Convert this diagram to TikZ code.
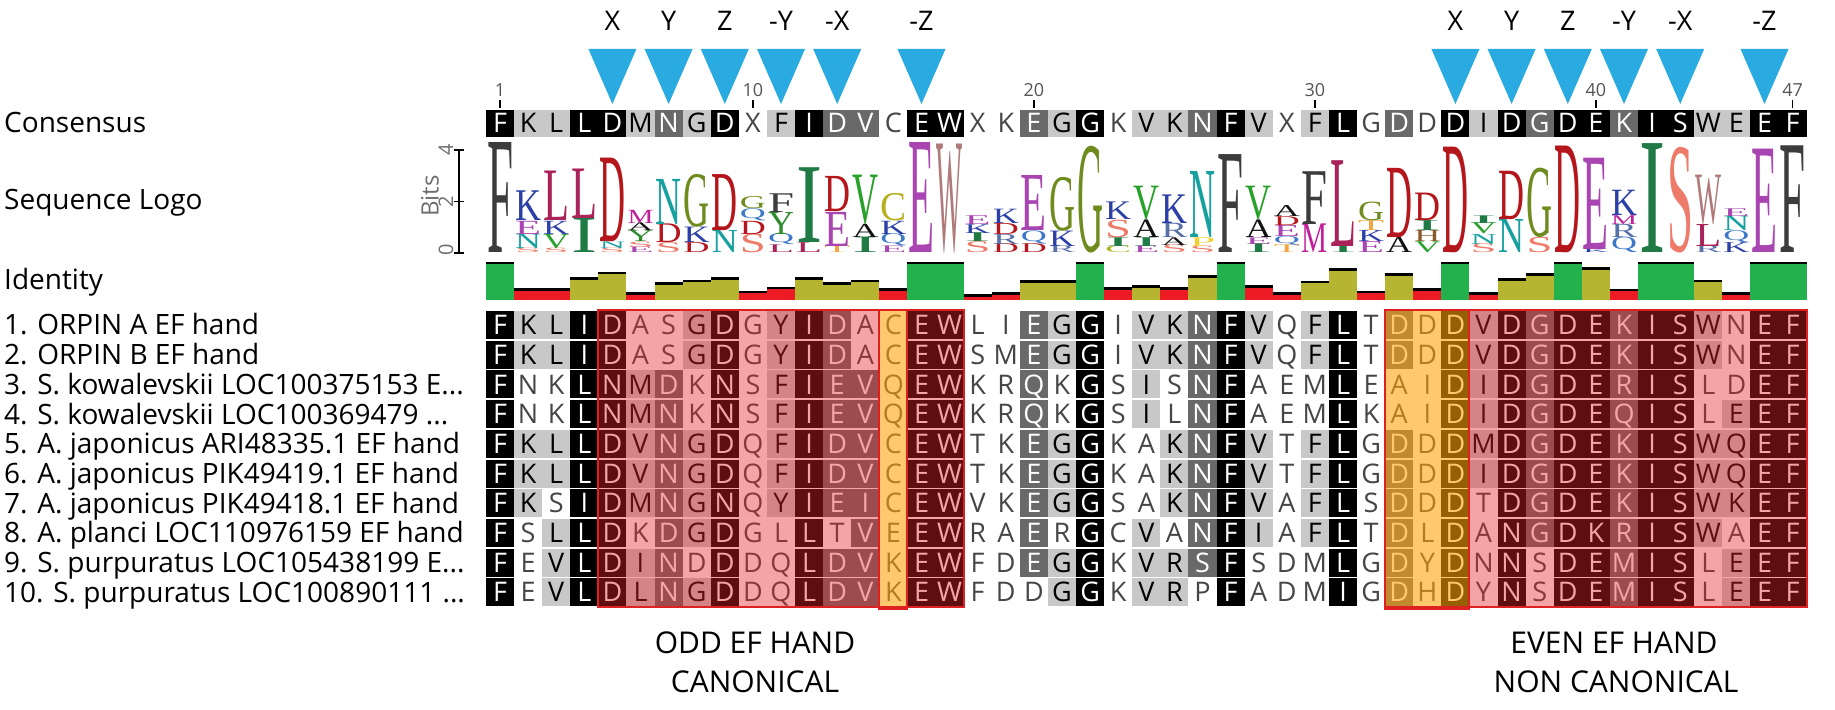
\documentclass[tikz,border=0pt]{standalone}
\usepackage{fontspec}
\usepackage{graphicx}
\setmainfont{Open Sans}
\newfontfamily\logofont{Liberation Serif}
\definecolor{f3}{RGB}{0,0,0}
\definecolor{t3}{RGB}{255,255,255}
\definecolor{f2}{RGB}{105,105,105}
\definecolor{t2}{RGB}{255,255,255}
\definecolor{f1}{RGB}{200,200,200}
\definecolor{t1}{RGB}{0,0,0}
\definecolor{f0}{RGB}{255,255,255}
\definecolor{t0}{RGB}{70,70,70}
\definecolor{triblue}{RGB}{41,171,226}
\definecolor{idg}{RGB}{34,177,76}
\definecolor{ido}{RGB}{181,181,50}
\definecolor{idr}{RGB}{237,28,36}
\definecolor{ovred}{RGB}{230,36,36}
\definecolor{ovorange}{RGB}{255,162,10}
\definecolor{boxred}{RGB}{222,32,32}
\definecolor{lgF}{RGB}{60,60,60}
\definecolor{lgK}{RGB}{43,63,168}
\definecolor{lgL}{RGB}{170,34,90}
\definecolor{lgD}{RGB}{180,22,27}
\definecolor{lgM}{RGB}{192,32,154}
\definecolor{lgN}{RGB}{22,160,160}
\definecolor{lgG}{RGB}{110,139,30}
\definecolor{lgI}{RGB}{31,122,69}
\definecolor{lgV}{RGB}{39,161,42}
\definecolor{lgC}{RGB}{181,176,31}
\definecolor{lgE}{RGB}{169,69,176}
\definecolor{lgW}{RGB}{176,122,122}
\definecolor{lgQ}{RGB}{61,120,200}
\definecolor{lgY}{RGB}{46,139,46}
\definecolor{lgS}{RGB}{238,122,106}
\definecolor{lgA}{RGB}{17,17,17}
\definecolor{lgR}{RGB}{88,112,168}
\definecolor{lgT}{RGB}{242,165,65}
\definecolor{lgP}{RGB}{242,208,53}
\definecolor{lgH}{RGB}{139,90,43}

\begin{document}
\begin{tikzpicture}[x=1pt, y=-1pt]
            \tikzstyle{cell} = [inner sep=0pt, minimum width=28.1pt, minimum height=28pt, text height=19.3pt, text depth=0pt, font=\fontsize{27}{27}\selectfont]
            \tikzstyle{lab} = [anchor=base west, inner sep=0pt, font=\fontsize{28}{28}\selectfont]
            \tikzstyle{num} = [anchor=south, inner sep=0pt, text={rgb,255:red,85;green,85;blue,85}, font=\fontsize{18}{18}\selectfont]
            \tikzstyle{toplab} = [anchor=base, inner sep=0pt, font=\fontsize{27}{27}\selectfont]
            \tikzstyle{bot} = [anchor=base, inner sep=0pt, font=\fontsize{30}{30}\selectfont]
            \tikzstyle{ticklab} = [inner sep=0pt, rotate=90, text={rgb,255:red,110;green,110;blue,110}, font=\fontsize{20}{20}\selectfont]
            \tikzstyle{tri} = [fill=triblue]
            \tikzstyle{ovr} = [fill=ovred, fill opacity=0.41]
            \tikzstyle{ovo} = [fill=ovorange, fill opacity=0.59]
            \tikzstyle{frame} = [draw=boxred, line width=2pt]
            \useasboundingbox (0,0) rectangle (1835,709);
            \node[lab] (lcons) at (4,132.6) {Consensus};
            \node[lab] (llogo) at (4,209.6) {Sequence Logo};
            \node[lab] (lid) at (4,289) {Identity};
            \foreach \t [count=\r] in {1. ORPIN A EF hand, 2. ORPIN B EF hand, 3. S. kowalevskii LOC100375153 E.\kern0pt.\kern0pt., 4. S. kowalevskii LOC100369479 .\kern0pt.\kern0pt., 5. A. japonicus ARI48335.1 EF hand, 6. A. japonicus PIK49419.1 EF hand, 7. A. japonicus PIK49418.1 EF hand, 8. A. planci LOC110976159 EF hand, 9. S. purpuratus LOC105438199 E.\kern0pt.\kern0pt., 10. S. purpuratus LOC100890111 .\kern0pt.\kern0pt.}
                \node[lab] (l\r) at (4,{334.9+(\r-1)*29.7}) {\t};
            \foreach \c/\t in {5/X,7/Y,9/Z,11/-Y,13/-X,16/-Z,35/X,37/Y,39/Z,41/-Y,43/-X,46/-Z} {
                \pgfmathsetmacro\x{500+(\c-1)*28.1}
                \fill[tri] ({\x-24},49) -- ({\x+24},49) -- (\x,104) -- cycle;
                \node[toplab] (t\c) at (\x,30.6) {\t};
            }
            \foreach \c in {1,10,20,30,40,47} {
                \node[num] (n\c) at ({500+(\c-1)*28.1},97) {\c};
                \draw[line width=1.6pt] ({500+(\c-1)*28.1},100) -- ({500+(\c-1)*28.1},108);
            }
            \foreach \a/\s [count=\c] in {F/3,K/1,L/1,L/3,D/3,M/1,N/2,G/1,D/3,X/0,F/1,I/3,D/2,V/2,C/0,E/3,W/3,X/0,K/0,E/2,G/1,G/3,K/0,V/1,K/1,N/2,F/3,V/1,X/0,F/1,L/3,G/0,D/2,D/0,D/3,I/1,D/3,G/2,D/3,E/3,K/2,I/3,S/3,W/1,E/1,E/3,F/3}
                \node[cell, minimum height=27pt, fill=f\s, text=t\s] (cs\c) at ({500+(\c-1)*28.1},123) {\a};
            \foreach \stack [count=\c] in {{F/1},{S/0.04,N/0.13,E/0.12,K/0.27},{S/0.04,V/0.13,K/0.12,L/0.45},{I/0.31,L/0.45},{S/0.04,N/0.06,D/0.76},{E/0.05,S/0.05,Y/0.1,A/0.07,M/0.12},{S/0.09,D/0.17,N/0.41},{D/0.09,K/0.14,G/0.48},{N/0.2,D/0.51},{S/0.17,D/0.12,Q/0.11,G/0.11},{L/0.07,Q/0.1,Y/0.2,F/0.17},{L/0.09,I/0.68},{T/0.06,E/0.31,D/0.32},{I/0.14,A/0.12,V/0.45},{E/0.06,Q/0.11,K/0.12,C/0.25},{E/1},{W/0.99},{S/0.1,I/0.08,K/0.08,E/0.08},{D/0.08,R/0.09,D/0.1,K/0.13},{D/0.08,Q/0.12,E/0.5},{R/0.06,K/0.14,G/0.49},{G/0.97},{C/0.06,I/0.08,S/0.16,K/0.16},{E/0.06,I/0.08,A/0.16,V/0.31},{S/0.07,A/0.07,R/0.13,K/0.26},{S/0.06,P/0.08,N/0.6},{F/0.89},{I/0.08,E/0.06,A/0.16,V/0.31},{T/0.07,Q/0.08,E/0.1,D/0.08,A/0.1},{M/0.26,F/0.48},{I/0.06,L/0.78},{E/0.1,K/0.1,T/0.09,G/0.17},{A/0.14,D/0.63},{V/0.1,H/0.1,I/0.09,D/0.25},{D/0.96},{S/0.08,N/0.09,V/0.1,I/0.07},{N/0.3,D/0.44},{S/0.14,G/0.63},{D/0.97},{K/0.03,E/0.83},{Q/0.14,R/0.12,M/0.08,K/0.23},{I/0.99},{S/0.96},{R/0.06,L/0.2,W/0.45},{K/0.09,Q/0.11,N/0.13,E/0.07},{E/0.94},{F/0.97}} {
                \foreach \L/\h [count=\k, remember=\t as \b (initially 0), evaluate=\h as \t using \b+\h, evaluate=\h as \hh using \h*110] in \stack
                    \node[inner sep=0pt, anchor=south] (g\c-\k) at ({500+(\c-1)*28.1},{253-\b*110}) {\resizebox*{26pt}{\hh pt}{\color{lg\L}\logofont \L}};
            }
            \draw[line width=2pt] (459,150) -- (459,253);
            \foreach \y in {150,201.5,253}
                \draw[line width=1.5pt] (454,\y) -- (464,\y);
            \node[ticklab] (b4) at (446,150) {4};
            \node[ticklab] (b2) at (446,201.5) {2};
            \node[ticklab] (b0) at (446,250) {0};
            \node[ticklab, font=\fontsize{24}{24}\selectfont] (bits) at (430,196) {Bits};
            \foreach \v/\k [count=\c] in {1/g,0.29/r,0.29/r,0.58/o,0.73/o,0.17/r,0.44/o,0.51/o,0.58/o,0.22/r,0.32/r,0.58/o,0.44/o,0.51/o,0.29/r,1/g,1/g,0.12/r,0.17/r,0.5/o,0.5/o,1/g,0.31/r,0.36/o,0.31/r,0.63/o,1/g,0.36/r,0.17/r,0.49/o,0.82/o,0.22/r,0.69/o,0.29/r,1/g,0.17/r,0.56/o,0.69/o,1/g,0.85/o,0.27/r,1/g,1/g,0.51/o,0.17/r,1/g,1/g} {
                \fill[fill=id\k] ({485.95+(\c-1)*28.1},{300-\v*37}) rectangle ({514.05+(\c-1)*28.1},300);
                \draw[line width=2.5pt] ({485.95+(\c-1)*28.1},{300-\v*37}) -- ({514.05+(\c-1)*28.1},{300-\v*37});
            }
            \foreach \seq [count=\r] in {
                {F/3,K/1,L/1,I/3,D/3,A/0,S/0,G/1,D/3,G/0,Y/1,I/3,D/2,A/0,C/0,E/3,W/3,L/0,I/0,E/2,G/1,G/3,I/0,V/1,K/1,N/2,F/3,V/1,Q/0,F/1,L/3,T/0,D/2,D/0,D/3,V/1,D/3,G/2,D/3,E/3,K/2,I/3,S/3,W/1,N/0,E/3,F/3},
                {F/3,K/1,L/1,I/3,D/3,A/0,S/0,G/1,D/3,G/0,Y/1,I/3,D/2,A/0,C/0,E/3,W/3,S/0,M/0,E/2,G/1,G/3,I/0,V/1,K/1,N/2,F/3,V/1,Q/0,F/1,L/3,T/0,D/2,D/0,D/3,V/1,D/3,G/2,D/3,E/3,K/2,I/3,S/3,W/1,N/0,E/3,F/3},
                {F/3,N/0,K/0,L/3,N/3,M/1,D/2,K/0,N/3,S/0,F/1,I/3,E/2,V/2,Q/0,E/3,W/3,K/0,R/0,Q/2,K/0,G/3,S/0,I/1,S/0,N/2,F/3,A/0,E/0,M/0,L/3,E/0,A/0,I/0,D/3,I/1,D/3,G/2,D/3,E/3,R/2,I/3,S/3,L/0,D/0,E/3,F/3},
                {F/3,N/0,K/0,L/3,N/3,M/1,N/2,K/0,N/3,S/0,F/1,I/3,E/2,V/2,Q/0,E/3,W/3,K/0,R/0,Q/2,K/0,G/3,S/0,I/1,L/0,N/2,F/3,A/0,E/0,M/0,L/3,K/0,A/0,I/0,D/3,I/1,D/3,G/2,D/3,E/3,Q/2,I/3,S/3,L/0,E/1,E/3,F/3},
                {F/3,K/1,L/1,L/3,D/3,V/1,N/2,G/1,D/3,Q/0,F/1,I/3,D/2,V/2,C/0,E/3,W/3,T/0,K/0,E/2,G/1,G/3,K/0,A/0,K/1,N/2,F/3,V/1,T/0,F/1,L/3,G/0,D/2,D/0,D/3,M/1,D/3,G/2,D/3,E/3,K/2,I/3,S/3,W/1,Q/1,E/3,F/3},
                {F/3,K/1,L/1,L/3,D/3,V/1,N/2,G/1,D/3,Q/0,F/1,I/3,D/2,V/2,C/0,E/3,W/3,T/0,K/0,E/2,G/1,G/3,K/0,A/0,K/1,N/2,F/3,V/1,T/0,F/1,L/3,G/0,D/2,D/0,D/3,I/1,D/3,G/2,D/3,E/3,K/2,I/3,S/3,W/1,Q/1,E/3,F/3},
                {F/3,K/1,S/0,I/3,D/3,M/1,N/2,G/1,N/3,Q/0,Y/1,I/3,E/2,I/2,C/0,E/3,W/3,V/0,K/0,E/2,G/1,G/3,S/0,A/0,K/1,N/2,F/3,V/1,A/0,F/1,L/3,S/0,D/2,D/0,D/3,T/0,D/3,G/2,D/3,E/3,K/2,I/3,S/3,W/1,K/1,E/3,F/3},
                {F/3,S/0,L/1,L/3,D/3,K/0,D/2,G/1,D/3,G/0,L/0,L/3,T/0,V/2,E/0,E/3,W/3,R/0,A/0,E/2,R/0,G/3,C/0,V/1,A/0,N/2,F/3,I/1,A/0,F/1,L/3,T/0,D/2,L/0,D/3,A/0,N/3,G/2,D/3,K/3,R/2,I/3,S/3,W/1,A/0,E/3,F/3},
                {F/3,E/0,V/1,L/3,D/3,I/1,N/2,D/0,D/3,D/0,Q/0,L/3,D/2,V/2,K/0,E/3,W/3,F/0,D/0,E/2,G/1,G/3,K/0,V/1,R/1,S/2,F/3,S/0,D/0,M/0,L/3,G/0,D/2,Y/0,D/3,N/0,N/3,S/0,D/3,E/3,M/2,I/3,S/3,L/0,E/1,E/3,F/3},
                {F/3,E/0,V/1,L/3,D/3,L/1,N/2,G/1,D/3,D/0,Q/0,L/3,D/2,V/2,K/0,E/3,W/3,F/0,D/0,D/0,G/1,G/3,K/0,V/1,R/1,P/0,F/3,A/0,D/0,M/0,I/3,G/0,D/2,H/0,D/3,Y/0,N/3,S/0,D/3,E/3,M/2,I/3,S/3,L/0,E/1,E/3,F/3}} {
                \foreach \a/\s [count=\c] in \seq
                    \node[cell, fill=f\s, text=t\s] (a\r-\c) at ({500+(\c-1)*28.1},{325+(\r-1)*29.7}) {\a};
            }
            \fill[ovr] (598.35,310) rectangle (879.35,607);
            \fill[ovr] (907.45,310) rectangle (963.65,607);
            \fill[ovo] (879.35,310) rectangle (907.45,609);
            \fill[ovo] (1385.15,310) rectangle (1469.45,609);
            \fill[ovr] (1469.45,310) rectangle (1806.65,607);
            \draw[frame] (598.35,310) rectangle (963.65,607);
            \draw[frame] (879.35,310) rectangle (907.45,609);
            \draw[frame] (1385.15,310) rectangle (1806.65,607);
            \draw[frame] (1385.15,310) rectangle (1469.45,609);
            \node[bot] (odd) at (755,653.7) {ODD EF HAND};
            \node[bot] (can) at (755,692.7) {CANONICAL};
            \node[bot] (even) at (1614,653.7) {EVEN EF HAND};
            \node[bot] (non) at (1616,692.7) {NON CANONICAL};
        \end{tikzpicture}
\end{document}
